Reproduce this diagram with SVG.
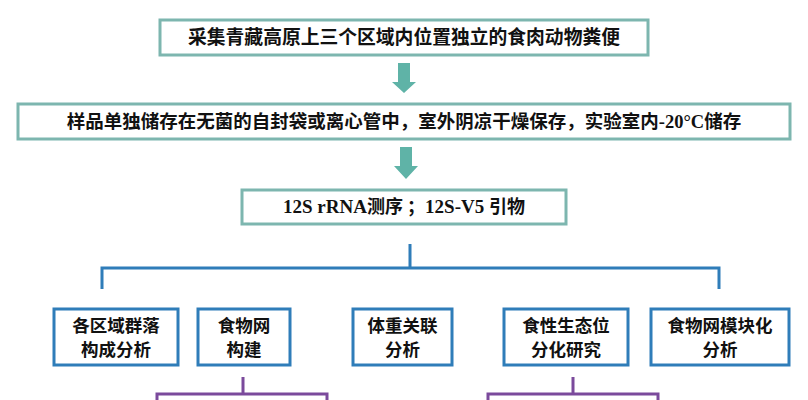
<svg xmlns="http://www.w3.org/2000/svg" width="808" height="400" viewBox="0 0 808 400">
<style>
.tbox{fill:#fff;stroke:#7DB6AF;stroke-width:3}
.bbox{fill:#fff;stroke:#2F7DB9;stroke-width:3}
.pbox{fill:#fff;stroke:#7B4A9C;stroke-width:3}
.arrow{fill:#5FB3A7}
.blue{fill:none;stroke:#2F7DB9;stroke-width:3}
.purple{fill:none;stroke:#7B4A9C;stroke-width:3}
.t{font-family:"Noto Sans CJK SC","Noto Sans",sans-serif;font-weight:bold;fill:#111;text-anchor:middle}
.s{font-size:17.5px}
.ser{font-family:"Liberation Serif",serif;font-weight:bold}
</style>
<rect width="808" height="400" fill="#fff"/>
<g id="n1">
<rect class="tbox" x="160" y="20" width="488" height="35"/>
<text class="t" x="404" y="44" font-size="18.8">采集青藏高原上三个区域内位置独立的食肉动物粪便</text>
</g>
<g id="n2">
<rect class="tbox" x="18" y="104" width="772" height="35"/>
<text class="t" x="404" y="128" font-size="18.5">样品单独储存在无菌的自封袋或离心管中，室外阴凉干燥保存，实验室内<tspan class="ser">-20°C</tspan>储存</text>
</g>
<g id="n3">
<rect class="tbox" x="242" y="190" width="324" height="34"/>
<text class="t" x="404" y="213" font-size="18" xml:space="preserve"><tspan class="ser" font-size="19">12S rRNA</tspan>测序 ；<tspan class="ser" font-size="19">12S-V5 </tspan>引物</text>
</g>
<g id="b1">
<rect class="bbox" x="54" y="309" width="124" height="56"/>
<text class="t s" x="116" y="332">各区域群落</text>
<text class="t s" x="116" y="355.5">构成分析</text>
</g>
<g id="b2">
<rect class="bbox" x="198" y="309" width="92" height="56"/>
<text class="t s" x="244" y="332">食物网</text>
<text class="t s" x="244" y="355.5">构建</text>
</g>
<g id="b3">
<rect class="bbox" x="353" y="309" width="99" height="56"/>
<text class="t s" x="402.5" y="332">体重关联</text>
<text class="t s" x="402.5" y="355.5">分析</text>
</g>
<g id="b4">
<rect class="bbox" x="504" y="309" width="124" height="56"/>
<text class="t s" x="566" y="332">食性生态位</text>
<text class="t s" x="566" y="355.5">分化研究</text>
</g>
<g id="b5">
<rect class="bbox" x="651" y="309" width="138" height="56"/>
<text class="t s" x="720" y="332">食物网模块化</text>
<text class="t s" x="720" y="355.5">分析</text>
</g>
<g id="p1">
<rect class="pbox" x="157" y="394" width="170" height="30"/>
</g>
<g id="p2">
<rect class="pbox" x="488" y="394" width="170" height="30"/>
</g>
<g id="connectors">
<path class="arrow" d="M398 63H410V82H416L404 93L392 82H398Z"/>
<path class="arrow" d="M400 147H412V166H418L406 179L394 166H400Z"/>
<path class="blue" d="M410 244V268M102 289V268H719V289"/>
<path class="purple" d="M243 377V394M573 377V394"/>
</g>
</svg>
